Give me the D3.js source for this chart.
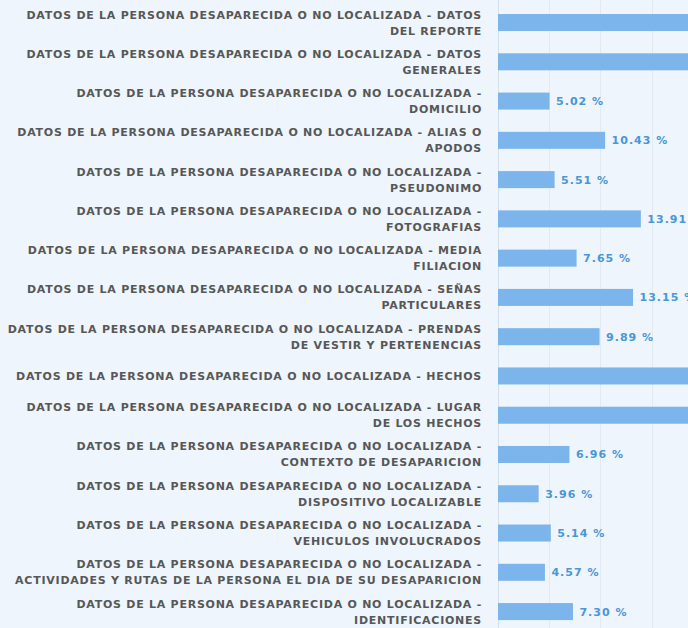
<!DOCTYPE html>
<html>
<head>
<meta charset="utf-8">
<script src="https://cdn.jsdelivr.net/npm/d3@7"></script>
<style>
  body { margin: 0; background: #eef5fc; }
  #chart { width: 688px; height: 628px; overflow: hidden; }
  .cat-label { font-family: "DejaVu Sans", Verdana, sans-serif; font-weight: bold; font-size: 11px; letter-spacing: 0.75px; fill: #575757; }
  .val-label { font-family: "DejaVu Sans", Verdana, sans-serif; font-weight: bold; font-size: 11px; letter-spacing: 1px; fill: #4897d7; }
</style>
</head>
<body>
<div id="chart"></div>
<script>

// categories (line breaks as shown on the chart)
const categories = [
	"DATOS DE LA PERSONA DESAPARECIDA O NO LOCALIZADA - DATOS\nDEL REPORTE",
	"DATOS DE LA PERSONA DESAPARECIDA O NO LOCALIZADA - DATOS\nGENERALES",
	"DATOS DE LA PERSONA DESAPARECIDA O NO LOCALIZADA -\nDOMICILIO",
	"DATOS DE LA PERSONA DESAPARECIDA O NO LOCALIZADA - ALIAS O\nAPODOS",
	"DATOS DE LA PERSONA DESAPARECIDA O NO LOCALIZADA -\nPSEUDONIMO",
	"DATOS DE LA PERSONA DESAPARECIDA O NO LOCALIZADA -\nFOTOGRAFIAS",
	"DATOS DE LA PERSONA DESAPARECIDA O NO LOCALIZADA - MEDIA\nFILIACION",
	"DATOS DE LA PERSONA DESAPARECIDA O NO LOCALIZADA - SEÑAS\nPARTICULARES",
	"DATOS DE LA PERSONA DESAPARECIDA O NO LOCALIZADA - PRENDAS\nDE VESTIR Y PERTENENCIAS",
	"DATOS DE LA PERSONA DESAPARECIDA O NO LOCALIZADA - HECHOS",
	"DATOS DE LA PERSONA DESAPARECIDA O NO LOCALIZADA - LUGAR\nDE LOS HECHOS",
	"DATOS DE LA PERSONA DESAPARECIDA O NO LOCALIZADA -\nCONTEXTO DE DESAPARICION",
	"DATOS DE LA PERSONA DESAPARECIDA O NO LOCALIZADA -\nDISPOSITIVO LOCALIZABLE",
	"DATOS DE LA PERSONA DESAPARECIDA O NO LOCALIZADA -\nVEHICULOS INVOLUCRADOS",
	"DATOS DE LA PERSONA DESAPARECIDA O NO LOCALIZADA -\nACTIVIDADES Y RUTAS DE LA PERSONA EL DIA DE SU DESAPARICION",
	"DATOS DE LA PERSONA DESAPARECIDA O NO LOCALIZADA -\nIDENTIFICACIONES"
];

// percentage per category (the long bars run past the visible area)
const values = [100, 100, 5.02, 10.43, 5.51, 13.91, 7.65, 13.15, 9.89, 100, 100, 6.96, 3.96, 5.14, 4.57, 7.30];

const gridTicks = [0, 5, 10, 15, 20];


class BarChart {

	constructor(parentElement, categories, values) {
		this.parentElement = parentElement;
		this.data = categories.map((c, i) => ({category: c, value: values[i]}));
		this.initVis();
	}

	initVis() {
		let vis = this;

		vis.width = 688;
		vis.height = 628;
		vis.left = 497.5;

		vis.svg = d3.select("#" + vis.parentElement).append("svg")
			.attr("width", vis.width)
			.attr("height", vis.height);

		vis.svg.append("rect")
			.attr("width", vis.width)
			.attr("height", vis.height)
			.attr("fill", "#eef5fc");

		// 100 % would sit far to the right, the view is cropped
		vis.x = d3.scaleLinear()
			.domain([0, 100])
			.range([vis.left, vis.left + 1027]);

		vis.y = d3.scaleBand()
			.domain(vis.data.map(d => d.category))
			.range([2.9, 631.2])
			.paddingInner(0.567)
			.paddingOuter(0.2835);

		vis.updateVis();
	}

	updateVis() {
		let vis = this;

		// grid lines
		vis.svg.append("g")
			.selectAll("line")
			.data(gridTicks)
			.join("line")
			.attr("x1", d => Math.round(vis.x(d)) + 0.5)
			.attr("x2", d => Math.round(vis.x(d)) + 0.5)
			.attr("y1", 0)
			.attr("y2", vis.height)
			.attr("stroke", d => d === 0 ? "#d3e0ec" : "#e1eaf3")
			.attr("stroke-width", 1);

		// bars
		vis.svg.append("g")
			.selectAll("rect")
			.data(vis.data)
			.join("rect")
			.attr("x", vis.x(0) + 0.5)
			.attr("y", d => vis.y(d.category))
			.attr("width", d => vis.x(d.value) - vis.x(0))
			.attr("height", vis.y.bandwidth())
			.attr("fill", "#7cb5ec");

		// value labels
		vis.svg.append("g")
			.selectAll("text")
			.data(vis.data)
			.join("text")
			.attr("class", "val-label")
			.attr("x", d => vis.x(d.value) + 7)
			.attr("y", d => vis.y(d.category) + vis.y.bandwidth() / 2 + 4)
			.text(d => d.value.toFixed(2) + " %");

		// category labels, right aligned
		let labels = vis.svg.append("g")
			.selectAll("text")
			.data(vis.data)
			.join("text")
			.attr("class", "cat-label")
			.attr("text-anchor", "end");

		labels.each(function(d) {
			let lines = d.category.split("\n");
			let cy = vis.y(d.category) + vis.y.bandwidth() / 2;
			let lineH = 16;
			let y0 = cy - (lines.length - 1) * lineH / 2 + 4;
			d3.select(this).selectAll("tspan")
				.data(lines)
				.join("tspan")
				.attr("x", 482)
				.attr("y", (l, i) => y0 + i * lineH)
				.text(l => l);
		});
	}
}

new BarChart("chart", categories, values);

</script>
</body>
</html>
